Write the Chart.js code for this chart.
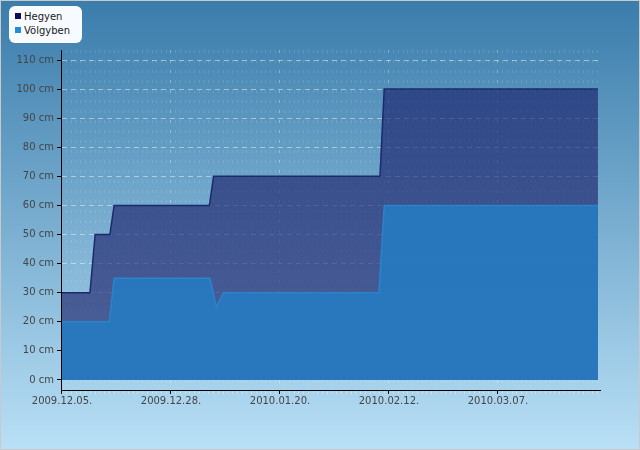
<!DOCTYPE html>
<html>
<head>
<meta charset="utf-8">
<script src="https://cdn.jsdelivr.net/npm/chart.js@4/dist/chart.umd.min.js"></script>
<style>
  html, body { margin: 0; padding: 0; }
  #wrap {
    position: relative; width: 640px; height: 450px; overflow: hidden;
    background: linear-gradient(to bottom, #3a7cab 0%, #b9e0f6 100%);
    font-family: "DejaVu Sans", sans-serif;
  }
  #wrap::after {
    content: ""; position: absolute; left: 0; top: 0; right: 0; bottom: 0;
    border: 1px solid #c9c9c9; pointer-events: none;
  }
  canvas { position: absolute; left: 0; top: 0; }
  #legend {
    position: absolute; left: 9px; top: 6px; width: 73px; height: 37px;
    background: #f7fbff; border-radius: 6px; font-size: 10px; color: #1a1a1a;
  }
  .item { position: absolute; left: 6px; height: 12px; line-height: 12px; white-space: nowrap; }
  .sw { display: inline-block; width: 6px; height: 6px; margin-right: 3px; vertical-align: 1px; }
</style>
</head>
<body>
<div id="wrap">
  <canvas id="c" width="640" height="450"></canvas>
  <div id="legend"></div>
</div>
<script>
// ---- data (days since 2009.12.05., snow depth in cm) ----
const seriesNames = ['Hegyen', 'Völgyben'];
const hegyenDays = [0, 5.9, 7, 10.1, 11, 31.1, 32, 67.1, 68, 113.1];
const hegyenCm   = [30, 30, 50, 50, 60, 60, 70, 70, 100, 100];
const volgybenDays = [0, 10, 11, 31.2, 32.6, 34, 66.9, 68, 113.1];
const volgybenCm   = [20, 20, 35, 35, 25, 30, 30, 60, 60];
const xTickDays   = [0, 23, 46, 69, 92];
const xTickLabels = ['2009.12.05.', '2009.12.28.', '2010.01.20.', '2010.02.12.', '2010.03.07.'];
const yTickUnit = ' cm';

const legendColors = ['#0d0d5c', '#1e8fdc'];
const legendEl = document.getElementById('legend');
seriesNames.forEach((n, i) => {
  const d = document.createElement('div');
  d.className = 'item';
  d.style.top = (5 + i * 14) + 'px';
  d.innerHTML = '<span class="sw" style="background:' + legendColors[i] + '"></span>' + n;
  legendEl.appendChild(d);
});

const toPts = (xs, ys) => xs.map((x, i) => ({x: x, y: ys[i]}));

Chart.defaults.font.family = '"DejaVu Sans", sans-serif';
Chart.defaults.font.size = 10;
Chart.defaults.color = '#454545';

new Chart(document.getElementById('c'), {
  type: 'line',
  data: {
    datasets: [
      {
        label: seriesNames[0],
        data: toPts(hegyenDays, hegyenCm),
        borderColor: '#1c2a6c',
        backgroundColor: 'rgba(22,23,100,0.6)',
        borderWidth: 1.5,
        fill: 'origin',
        pointRadius: 0,
        tension: 0,
        order: 2
      },
      {
        label: seriesNames[1],
        data: toPts(volgybenDays, volgybenCm),
        borderColor: '#2a84cc',
        backgroundColor: 'rgba(38,122,192,0.9)',
        borderWidth: 1.5,
        fill: 'origin',
        pointRadius: 0,
        tension: 0,
        order: 1
      }
    ]
  },
  options: {
    responsive: false,
    animation: false,
    layout: { padding: { top: 50, right: 40, left: 0, bottom: 0 } },
    plugins: { legend: { display: false }, tooltip: { enabled: false } },
    scales: {
      x: {
        type: 'linear',
        min: -0.21,
        max: 113.53,
        afterFit: (s) => { s.height = 60; },
        ticks: {
          stepSize: 1,
          includeBounds: false,
          autoSkip: false,
          maxRotation: 0,
          padding: 1,
          color: '#454545',
          callback: (v) => {
            const i = xTickDays.indexOf(v);
            return i >= 0 ? xTickLabels[i] : '';
          }
        },
        grid: {
          color: (ctx) => (ctx.tick && xTickDays.includes(ctx.tick.value)) ? 'rgba(255,255,255,0.35)' : 'rgba(255,255,255,0.13)',
          tickColor: (ctx) => (ctx.tick && xTickDays.includes(ctx.tick.value)) ? '#000' : 'rgba(255,255,255,0.35)',
          tickLength: 4,
          lineWidth: 1
        },
        border: { color: '#000', width: 1, dash: [3, 7] }
      },
      y: {
        min: -3.44,
        max: 113.44,
        afterFit: (s) => { s.width = 61; },
        ticks: {
          stepSize: 10,
          includeBounds: false,
          padding: 3,
          color: '#454545',
          callback: (v) => v + yTickUnit
        },
        grid: {
          color: 'rgba(255,255,255,0.45)',
          tickColor: '#000',
          tickLength: 4,
          lineWidth: 1
        },
        border: { color: '#000', width: 1, dash: [5, 4] }
      }
    }
  }
});
</script>
</body>
</html>
